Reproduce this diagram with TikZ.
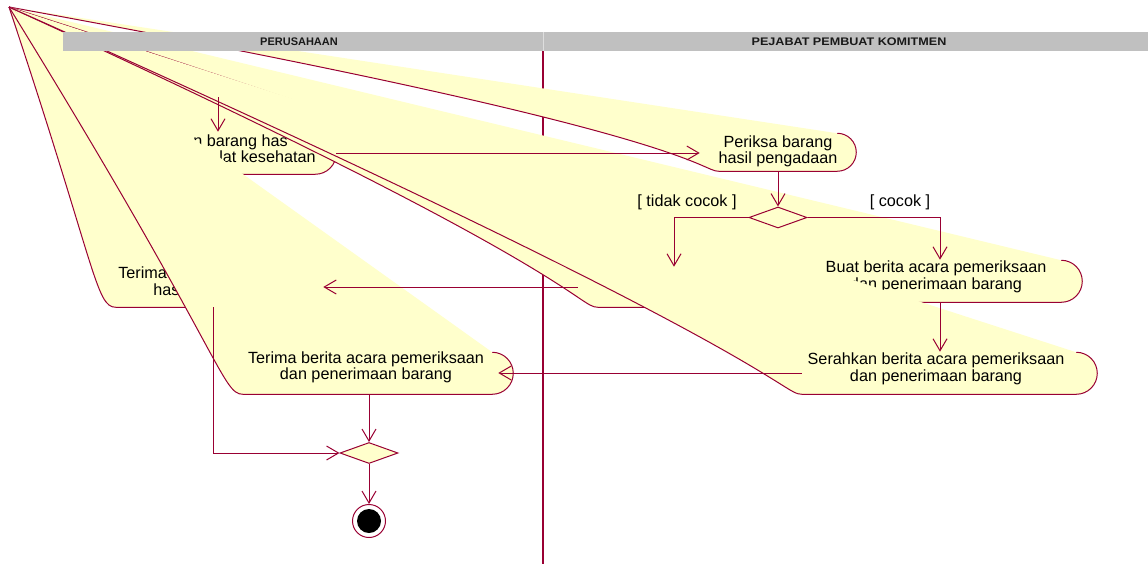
\documentclass[tikz,border=0pt]{standalone}
\usepackage{fontspec}
\setmainfont{Liberation Sans}
\usepackage{graphicx}
\usetikzlibrary{arrows.meta,shapes.geometric,fit,calc}

\definecolor{umlred}{RGB}{153,0,51}
\definecolor{umlfill}{RGB}{255,255,204}
\definecolor{lanegray}{RGB}{192,192,192}
\definecolor{lanerule}{RGB}{222,222,222}

\tikzset{
  actline/.style={draw=umlred, line width=0.75pt, line join=round},
  actfill/.style={fill=umlfill},
  actbox/.style={inner sep=0pt, draw=none},
  acttext/.style={inner sep=0pt, font=\fontsize{12.15pt}{12.75pt}\selectfont, text=black},
  flow/.style={draw=umlred, line width=0.75pt, -{Straight Barb[length=9pt,width=10.5pt]}},
  plainline/.style={draw=umlred, line width=0.8pt},
  decision/.style={diamond, draw=umlred, fill=umlfill, line width=0.75pt,
    minimum width=43.5pt, minimum height=15.75pt, inner sep=0pt},
  lanetitle/.style={inner sep=0pt, font=\fontsize{8.25pt}{9pt}\selectfont\bfseries, text=black!90},
}

% Activity outline whose top-left corner collapses onto the common apex:
% #1 = bounding node, #2 = corner radius (px)
\newcommand\glitchshape[2]{%
  \fill[actfill] (apex) .. controls (#1.north west) and (#1.south west) ..
    ($(#1.south west)+(#2,0)$) -- ($(#1.south east)+(-#2,0)$)
    arc[start angle=-90,end angle=90,radius=#2*0.75pt] -- cycle;
  \draw[actline] (apex) .. controls (#1.north west) and (#1.south west) ..
    ($(#1.south west)+(#2,0)$) -- ($(#1.south east)+(-#2,0)$)
    arc[start angle=-90,end angle=90,radius=#2*0.75pt];
}

\begin{document}
\begin{tikzpicture}[x=0.75pt,y=-0.75pt]
\useasboundingbox (0,0) rectangle (1148,564);
\fill[white] (0,0) rectangle (1148,564);
\coordinate (apex) at (9,7);

% swimlane separator (lies under the activities)
\coordinate (sepTop) at (543,51);
\coordinate (sepBot) at (543,564);
\draw[plainline] (sepTop) -- (sepBot);

% ---- activities, in painting order ----
\node[actbox, fit={(156,132) (336,174)}] (A) {};
\glitchshape{A}{21}
\node[acttext, anchor=base west] (A-l1) at (193,146) {n barang has};
\node[acttext, anchor=base west] (A-l2) at (219,162) {lat kesehatan};

\node[actbox, fit={(96,267) (330,307)}] (B) {};
\glitchshape{B}{20}
\node[acttext, anchor=base west] (B-l1) at (118,278) {Terima};
\node[acttext, anchor=base west] (B-l2) at (153,295) {has};

\node[actbox, fit={(578,267) (770,307)}] (E) {};
\glitchshape{E}{20}

\node[actbox, fit={(222,352) (513,394)}] (D) {};
\glitchshape{D}{21}
\node[acttext, anchor=base] (D-l1) at (366,363) {Terima berita acara pemeriksaan};
\node[acttext, anchor=base] (D-l2) at (366,379) {dan penerimaan barang};

\node[actbox, fit={(700,133) (856,171)}] (P) {};
\glitchshape{P}{19}
\node[acttext, anchor=base] (P-l1) at (778,147) {Periksa barang};
\node[acttext, anchor=base] (P-l2) at (778,163) {hasil pengadaan};

\node[actbox, fit={(798,260) (1082,302)}] (Q) {};
\glitchshape{Q}{21}
\node[acttext, anchor=base] (Q-l1) at (936,272) {Buat berita acara pemeriksaan};
\node[acttext, anchor=base] (Q-l2) at (936,289) {dan penerimaan barang};

\node[actbox, fit={(781,352) (1097,394)}] (S) {};
\glitchshape{S}{21}
\node[acttext, anchor=base] (S-l1) at (936,364) {Serahkan berita acara pemeriksaan};
\node[acttext, anchor=base] (S-l2) at (936,381) {dan penerimaan barang};

% ---- swimlane header ----
\fill[lanegray] (63,32) rectangle (1148,51);
\draw[lanerule, line width=0.75pt] (543,32) -- (543,51);
\node[lanetitle, anchor=base] (lane1) at (299,45.6) {PERUSAHAAN};
\node[lanetitle, anchor=base] (lane2) at (849,45.6) {\scalebox{1.145}[1]{PEJABAT PEMBUAT KOMITMEN}};

% ---- decisions and final state ----
\node[decision] (D1) at (778,217.5) {};
\node[decision] (M) at (369,453) {};
\node[circle, draw=umlred, fill=white, line width=0.75pt, minimum size=24.75pt, inner sep=0pt] (F) at (369,521) {};
\fill[black] (F.center) circle[radius=9pt];

% ---- transitions ----
\coordinate (init) at (218,97);
\draw[flow] (init) -- (init |- A.north);
\draw[flow] (A.east) -- (A.east -| P.west);
\draw[flow] (P.south) -- (D1.north);
\draw[flow] (D1.west) -| (E.north);
\draw[flow] (D1.east) -| (Q.north);
\draw[flow] (Q.south) -- (Q.south |- S.north);
\draw[flow, shorten <=-15.75pt, shorten >=-11.25pt] (S.west) -- (S.west -| D.east);
\draw[flow, shorten >=-5.25pt] (E.west) -- (E.west -| B.east);
\draw[flow] (B.south) |- (M.west);
\draw[flow] (M.north |- D.south) -- (M.north);
\draw[flow] (M.south) -- (F.north);

% guards
\node[acttext, anchor=base] (g1) at (687,206) {[ tidak cocok ]};
\node[acttext, anchor=base] (g2) at (900,206) {[ cocok ]};
\end{tikzpicture}
\end{document}
